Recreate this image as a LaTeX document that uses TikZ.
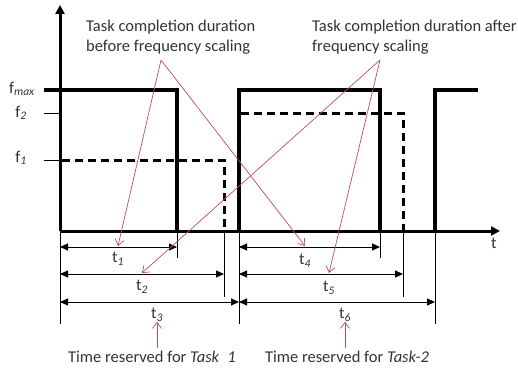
\documentclass[tikz,border=0pt]{standalone}
\usepackage{fontspec}
\setmainfont{Carlito}
\usetikzlibrary{arrows.meta}
\definecolor{ink}{HTML}{333333}
\definecolor{pointer}{HTML}{C0504D}
\begin{document}
\begin{tikzpicture}[x=1pt,y=-1pt,
  lbl/.style={inner sep=0pt,text=ink,font=\fontsize{16.5}{20}\selectfont},
  note/.style={lbl,align=left,anchor=north west},
  axis/.style={line width=3pt,-{Triangle[length=9pt,width=9pt]}},
  pulse/.style={line width=3.5pt,line join=miter},
  scaled/.style={line width=3pt,dash pattern=on 8pt off 5pt},
  tickmark/.style={line width=0.8pt},
  extline/.style={line width=0.8pt},
  span/.style={line width=0.9pt,{Triangle[length=8pt,width=7pt]}-{Triangle[length=8pt,width=7pt]}},
  ptr/.style={pointer,line width=0.7pt,-{Straight Barb[length=6pt,width=9pt]}}]
\useasboundingbox (0,0) rectangle (518,369);

% time axes
\coordinate (o) at (60,231);
\draw[axis] (o) -- (60,5);
\draw[axis] (o) -- (500,231);
\node[lbl] (tlab) at (494,243) {t};

% frequency levels
\draw[tickmark] (44,113) -- (60,113);
\draw[tickmark] (44,160) -- (60,160);
\node[lbl,anchor=east] (fmax) at (35,89) {f\textsubscript{\textit{max}}};
\node[lbl,anchor=east] (ftwo) at (27,113) {f\textsubscript{\textit{2}}};
\node[lbl,anchor=east] (fone) at (27,158) {f\textsubscript{\textit{1}}};

% task 1 at full and at scaled frequency
\draw[pulse] (44,90) -- (177,90) -- (177,231);
\draw[scaled] (62,160) -- (224,160) -- (224,231);

% task 2 at full and at scaled frequency
\draw[pulse] (239,231) -- (239,90) -- (380,90) -- (380,231);
\draw[scaled] (241,113) -- (403,113) -- (403,231);

% next task
\draw[pulse] (435,231) -- (435,90) -- (478,90);

% extension lines
\draw[extline] (60,231) -- (60,324);
\draw[extline] (177,231) -- (177,258);
\draw[extline] (224,231) -- (224,297);
\draw[extline] (239,231) -- (239,324);
\draw[extline] (380,231) -- (380,258);
\draw[extline] (403,231) -- (403,297);
\draw[extline] (435,231) -- (435,324);

% durations
\draw[span] (60,247) -- (177,247);
\draw[span] (60,274) -- (224,274);
\draw[span] (60,302) -- (239,302);
\draw[span] (239,247) -- (380,247);
\draw[span] (239,274) -- (403,274);
\draw[span] (239,302) -- (435,302);
\node[lbl] (t1) at (118,259) {t\textsubscript{\textit{1}}};
\node[lbl] (t2) at (142,287) {t\textsubscript{\textit{2}}};
\node[lbl] (t3) at (157,315) {t\textsubscript{\textit{3}}};
\node[lbl] (t4) at (305,261) {t\textsubscript{\textit{4}}};
\node[lbl] (t5) at (329,288) {t\textsubscript{\textit{5}}};
\node[lbl] (t6) at (345,315) {t\textsubscript{\textit{6}}};

% annotations
\node[note] (before) at (86,20) {Task completion duration\\before frequency scaling};
\node[note] (after) at (312,20) {Task completion duration after\\frequency scaling};
\node[lbl] (res1) at (152,357) {Time reserved for \textit{Task\enspace1}};
\node[lbl] (res2) at (347,357) {Time reserved for \textit{Task-2}};

\coordinate (bfoot) at (161,60);
\coordinate (afoot) at (380,60);
\coordinate (hit1) at (118,246);
\coordinate (hit4) at (305,246);
\coordinate (hit2) at (142,273);
\coordinate (hit5) at (329,273);
\draw[ptr] (bfoot) -- (hit1);
\draw[ptr] (bfoot) -- (hit4);
\draw[ptr] (afoot) -- (hit2);
\draw[ptr] (afoot) -- (hit5);
\draw[ptr] (res1.north -| t3) ++(0,-3) -- (t3.south);
\draw[ptr] (res2.north -| t6) ++(0,-3) -- (t6.south);
\end{tikzpicture}
\end{document}
